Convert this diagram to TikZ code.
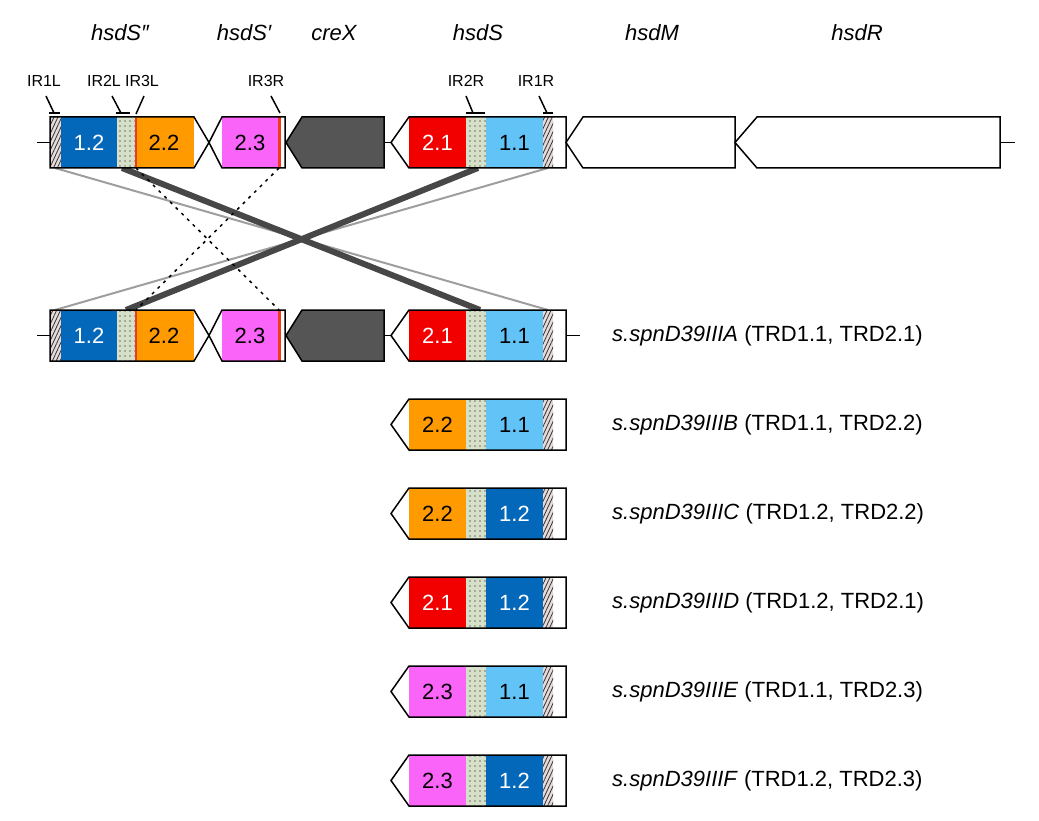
\documentclass[tikz,border=0pt]{standalone}
\usepackage{fontspec}
\setmainfont{Liberation Sans}
\usetikzlibrary{patterns,patterns.meta}
\definecolor{cDB}{HTML}{0468BA}
\definecolor{cLB}{HTML}{62C3F7}
\definecolor{cOR}{HTML}{FF9A00}
\definecolor{cPK}{HTML}{FA64F8}
\definecolor{cRD}{HTML}{F20000}
\definecolor{cGR}{HTML}{555555}
\definecolor{cDOT}{HTML}{D6E0C8}
\definecolor{cHAT}{HTML}{E6DADA}
\definecolor{cRL}{HTML}{F03A20}
\tikzset{
  outl/.style={draw=black,line width=1.5pt,line join=miter},
  num/.style={font=\fontsize{22}{22}\selectfont,inner sep=0pt},
  ir/.style={font=\fontsize{16}{16}\selectfont,inner sep=0pt},
  gene/.style={font=\itshape\fontsize{22}{22}\selectfont,inner sep=0pt},
  lab/.style={font=\fontsize{22}{22}\selectfont,inner sep=0pt,anchor=west},
  tick/.style={line width=1.5pt},
  grey/.style={draw=black!38,line width=2pt},
  dark/.style={draw=black!72,line width=6pt},
  dotl/.style={draw=black,line width=1.5pt,dash pattern=on 3pt off 5pt},
}
% dotted box: x1 x2 top
\newcommand\dotbox[3]{%
  \fill[cDOT] (#1,#3) rectangle (#2,#3+51);
  \fill[pattern={Dots[distance=5pt,radius=0.6pt]},pattern color=black] (#1,#3) rectangle (#2,#3+51);}
\newcommand\hatbox[3]{%
  \fill[cHAT] (#1,#3) rectangle (#2,#3+51);
  \fill[pattern={Lines[angle=65,distance=3.5pt,line width=0.8pt]},pattern color=black!80] (#1,#3) rectangle (#2,#3+51);}
% hsdS-type element: name, top, colA, labA, txtA, colB, labB, txtB
\newcommand\trd[8]{%
  \fill[#3] (409,#2) rectangle (466,#2+51);
  \dotbox{466}{486}{#2}
  \fill[#6] (486,#2) rectangle (543,#2+51);
  \hatbox{543}{553}{#2}
  \draw[outl] (391,#2+25.5) -- (409,#2) -- (566,#2) -- (566,#2+51) -- (409,#2+51) -- cycle;
  \node[num,text=#5] (#1a) at (437.5,#2+25.5) {#4};
  \node[num,text=#8] (#1b) at (514.5,#2+25.5) {#7};}
% left cluster: name, top
\newcommand\leftcl[2]{%
  \coordinate (#1l) at (37,#2+25.5);
  \coordinate (#1s) at (50,#2+25.5);
  \draw[tick] (#1l) -- (#1s);
  \hatbox{50}{61}{#2}
  \fill[cDB] (61,#2) rectangle (117,#2+51);
  \dotbox{117}{135}{#2}
  \fill[cOR] (135,#2) rectangle (194,#2+51);
  \fill[cRL] (134.5,#2) rectangle (137,#2+51);
  \draw[outl] (50,#2) -- (194,#2) -- (209,#2+25.5) -- (194,#2+51) -- (50,#2+51) -- cycle;
  \node[num,text=white] (#1n12) at (89,#2+25.5) {1.2};
  \node[num] (#1n22) at (164,#2+25.5) {2.2};
  \fill[cPK] (222,#2) rectangle (278,#2+51);
  \fill[cRL] (278,#2) rectangle (281,#2+51);
  \draw[outl] (222,#2) -- (285,#2) -- (285,#2+51) -- (222,#2+51) -- (209,#2+25.5) -- cycle;
  \node[num] (#1n23) at (250,#2+25.5) {2.3};
  \draw[outl,fill=cGR] (286,#2+25.5) -- (302,#2) -- (384,#2) -- (384,#2+51) -- (302,#2+51) -- cycle;
  \coordinate (#1c) at (391,#2+25.5);
  \draw[tick] (384,#2+25.5) -- (#1c);}
\begin{document}
\begin{tikzpicture}[x=1pt,y=-1pt]
\useasboundingbox (0,0) rectangle (1039,821);
% crossing connectors
\coordinate (a1) at (55,168); \coordinate (a2) at (548,168);
\coordinate (b1) at (55,310); \coordinate (b2) at (548,310);
\coordinate (d1) at (122,168); \coordinate (d2) at (478,168);
\coordinate (e1) at (126,310); \coordinate (e2) at (480,310);
\coordinate (f1) at (136,168); \coordinate (f2) at (279,168);
\coordinate (g1) at (136,310); \coordinate (g2) at (279,310);
\draw[grey] (a1) -- (b2); \draw[grey] (a2) -- (b1);
\draw[dark] (d1) -- (e2); \draw[dark] (d2) -- (e1);
\draw[dotl] (f1) -- (g2); \draw[dotl] (f2) -- (g1);
% row 1
\leftcl{r1}{117}
\trd{r1s}{117}{cRD}{2.1}{white}{cLB}{1.1}{black}
\draw[outl] (566,142.5) -- (583,117) -- (735,117) -- (735,168) -- (583,168) -- cycle;
\draw[outl] (735,142.5) -- (757,117) -- (1000,117) -- (1000,168) -- (757,168) -- cycle;
\coordinate (r1e) at (1015,142.5);
\draw[tick] (1000,142.5) -- (r1e);
% gene names
\node[gene] (g1n) at (120,33) {hsdS″};
\node[gene] (g2n) at (244,33) {hsdS′};
\node[gene] (g3n) at (334,33) {creX};
\node[gene] (g4n) at (478,33) {hsdS};
\node[gene] (g5n) at (652,33) {hsdM};
\node[gene] (g6n) at (857,33) {hsdR};
% IR labels
\node[ir] (ir1l) at (44,81) {IR1L};
\node[ir] (ir2l) at (104,81) {IR2L};
\node[ir] (ir3l) at (142,81) {IR3L};
\node[ir] (ir3r) at (266,81) {IR3R};
\node[ir] (ir2r) at (466,81) {IR2R};
\node[ir] (ir1r) at (536,81) {IR1R};
\draw[tick] (46,96) -- (54,113); \draw[tick] (49,113) -- (60,113);
\draw[tick] (112,96) -- (121,113); \draw[tick] (116,113) -- (130,113);
\draw[tick] (144,96) -- (136,114);
\draw[tick] (271,96) -- (280,113);
\draw[tick] (466,96) -- (473,113); \draw[tick] (466,113) -- (485,113);
\draw[tick] (539,96) -- (547,113); \draw[tick] (543,113) -- (553,113);
% row 2
\leftcl{r2}{310}
\trd{r2s}{310}{cRD}{2.1}{white}{cLB}{1.1}{black}
\coordinate (r2e) at (580,335.5);
\draw[tick] (566,335.5) -- (r2e);
\node[lab] (l2) at (612,335.5) {\textit{s.spnD39IIIA} (TRD1.1, TRD2.1)};
% rows 3-7
\trd{r3}{399}{cOR}{2.2}{black}{cLB}{1.1}{black}
\node[lab] (l3) at (612,424.5) {\textit{s.spnD39IIIB} (TRD1.1, TRD2.2)};
\trd{r4}{488}{cOR}{2.2}{black}{cDB}{1.2}{white}
\node[lab] (l4) at (612,513.5) {\textit{s.spnD39IIIC} (TRD1.2, TRD2.2)};
\trd{r5}{577}{cRD}{2.1}{white}{cDB}{1.2}{white}
\node[lab] (l5) at (612,602.5) {\textit{s.spnD39IIID} (TRD1.2, TRD2.1)};
\trd{r6}{666}{cPK}{2.3}{black}{cLB}{1.1}{black}
\node[lab] (l6) at (612,691.5) {\textit{s.spnD39IIIE} (TRD1.1, TRD2.3)};
\trd{r7}{755}{cPK}{2.3}{black}{cDB}{1.2}{white}
\node[lab] (l7) at (612,780.5) {\textit{s.spnD39IIIF} (TRD1.2, TRD2.3)};
\end{tikzpicture}
\end{document}
